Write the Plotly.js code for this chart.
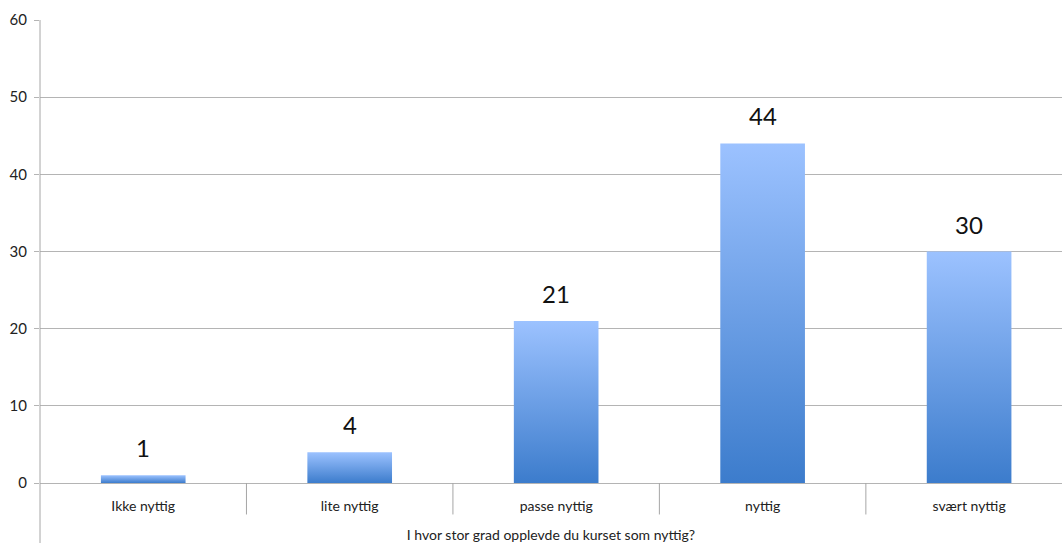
<!DOCTYPE html>
<html>
<head>
<meta charset="utf-8">
<script src="https://cdn.plot.ly/plotly-3.0.1.min.js"></script>
<style>html,body{margin:0;padding:0;background:#fff;}#chart{width:1062px;height:543px;}</style>
</head>
<body>
<div id="chart"></div>
<script>
const categories = ["Ikke nyttig", "lite nyttig", "passe nyttig", "nyttig", "svært nyttig"];
const values = [1, 4, 21, 44, 30];
const yTicks = [0, 10, 20, 30, 40, 50, 60];
const xTitle = "I hvor stor grad opplevde du kurset som nyttig?";

const FONT = "Lato, 'Open Sans', sans-serif";
const GRID = "#b4b4b4";

const trace = {
  type: "bar",
  x: categories,
  y: values,
  width: 0.41,
  marker: { color: "#6f9fe6", line: { width: 0 } },
  hoverinfo: "x+y"
};

const annotations = categories.map((c, i) => ({
  x: c, y: values[i], xref: "x", yref: "y",
  text: String(values[i]), showarrow: false,
  yanchor: "bottom", yshift: 11,
  font: { family: FONT, size: 24, color: "#111" }
}));

const shapes = categories.slice(0, -1).map((c, i) => ({
  type: "line", xref: "x", yref: "paper",
  x0: i + 0.5, x1: i + 0.5, y0: 0, y1: -0.068,
  line: { color: "#a6a6a6", width: 1 }
}));
shapes.push({
  type: "line", xref: "paper", yref: "paper",
  x0: 0, x1: 0, y0: -0.14, y1: 1,
  line: { color: "#a6a6a6", width: 1 }
});

const layout = {
  width: 1062, height: 543,
  margin: { l: 40, r: 0, t: 20, b: 60 },
  paper_bgcolor: "#fff", plot_bgcolor: "#fff",
  showlegend: false,
  font: { family: FONT, color: "#333" },
  xaxis: {
    type: "category",
    range: [-0.5, 4.45],
    ticks: "outside", ticklen: 10, tickcolor: "rgba(0,0,0,0)",
    showline: false,
    showgrid: false,
    tickfont: { family: FONT, size: 14, color: "#222" },
    title: { text: xTitle, font: { family: FONT, size: 14, color: "#222" }, standoff: 19 },
    fixedrange: true
  },
  yaxis: {
    range: [0, 60],
    tickvals: yTicks,
    ticktext: yTicks.map(String),
    ticks: "outside", ticklen: 5, tickcolor: GRID, tickwidth: 1,
    ticklabelstandoff: 4,
    showgrid: true, gridcolor: GRID, gridwidth: 1,
    zeroline: true, zerolinecolor: GRID, zerolinewidth: 1,
    showline: false,
    tickfont: { family: FONT, size: 15, color: "#222" },
    fixedrange: true
  },
  annotations: annotations,
  shapes: shapes
};

function applyGradient() {
  const svg = document.querySelector("#chart .main-svg");
  if (!svg) return;
  const NS = "http://www.w3.org/2000/svg";
  if (!document.getElementById("barGrad")) {
    let defs = svg.querySelector("defs");
    if (!defs) { defs = document.createElementNS(NS, "defs"); svg.insertBefore(defs, svg.firstChild); }
    const g = document.createElementNS(NS, "linearGradient");
    g.setAttribute("id", "barGrad");
    g.setAttribute("x1", "0"); g.setAttribute("y1", "0");
    g.setAttribute("x2", "0"); g.setAttribute("y2", "1");
    [["0", "#9cc2ff"], ["1", "#3c7ccc"]].forEach(([o, c]) => {
      const s = document.createElementNS(NS, "stop");
      s.setAttribute("offset", o); s.setAttribute("stop-color", c);
      g.appendChild(s);
    });
    defs.appendChild(g);
  }
  document.querySelectorAll("#chart .barlayer .point path").forEach(p => {
    p.style.fill = "url(#barGrad)";
  });
}

Plotly.newPlot("chart", [trace], layout, { displayModeBar: false, staticPlot: true }).then(() => {
  applyGradient();
  document.getElementById("chart").on("plotly_afterplot", applyGradient);
});
</script>
</body>
</html>
